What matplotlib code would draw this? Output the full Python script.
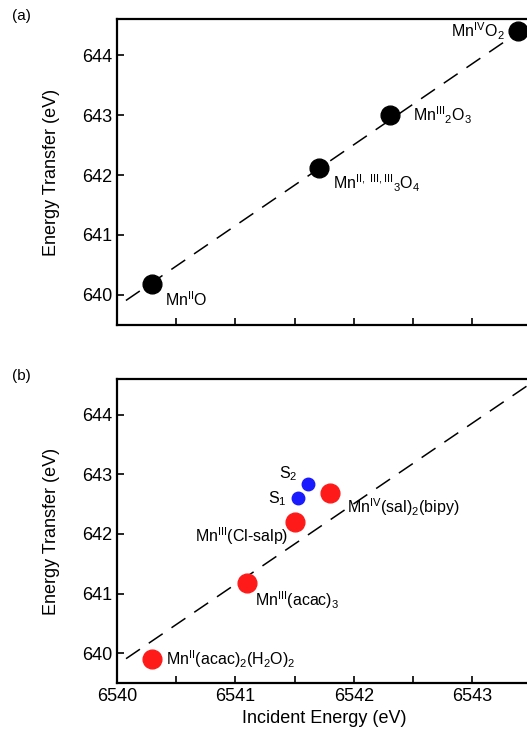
import matplotlib
matplotlib.use("Agg")
import matplotlib.pyplot as plt

plt.rcParams['font.family'] = ['Liberation Sans', 'DejaVu Sans']
plt.rcParams['mathtext.fontset'] = 'custom'
plt.rcParams['mathtext.rm'] = 'Liberation Sans'
plt.rcParams['mathtext.it'] = 'Liberation Sans:italic'
plt.rcParams['mathtext.bf'] = 'Liberation Sans:bold'

# panel (a): oxides
oxide_x = [6540.3, 6541.71, 6542.31, 6543.39]
oxide_y = [640.18, 642.12, 643.0, 644.4]
oxide_labels = [r'Mn$^{\rm II}$O', r'Mn$^{\rm II,\ III,III}{}_{3}$O$_{4}$',
                r'Mn$^{\rm III}{}_{2}$O$_{3}$', r'Mn$^{\rm IV}$O$_{2}$']

# panel (b): complexes
cplx_x = [6540.3, 6541.1, 6541.5, 6541.8]
cplx_y = [639.9, 641.18, 642.2, 642.68]
cplx_labels = [r'Mn$^{\rm II}$(acac)$_{2}$(H$_{2}$O)$_{2}$', r'Mn$^{\rm III}$(acac)$_{3}$',
               r'Mn$^{\rm III}$(Cl-salp)', r'Mn$^{\rm IV}$(sal)$_{2}$(bipy)']
samp_x = [6541.53, 6541.61]
samp_y = [642.6, 642.83]
samp_labels = [r'S$_{1}$', r'S$_{2}$']

# dashed correlation line
fit_x = [6539.5, 6544.5]
fit_y = [639.13, 645.88]

xticks = [6540, 6540.5, 6541, 6541.5, 6542, 6542.5, 6543]
xticklabels = ['6540', '', '6541', '', '6542', '', '6543']
yticks = [640, 641, 642, 643, 644]

fig = plt.figure(figsize=(5.27, 7.40), dpi=100)
ax1 = fig.add_axes([0.222, 0.561, 0.786, 0.413])
ax2 = fig.add_axes([0.222, 0.077, 0.786, 0.411])

for ax in (ax1, ax2):
    ax.plot(fit_x, fit_y, color='black', lw=1.1, dashes=(11, 7), zorder=1)
    ax.set_xlim(6540, 6543.5)
    ax.set_ylim(639.5, 644.6)
    ax.set_xticks(xticks)
    ax.set_yticks(yticks)
    ax.tick_params(direction='in', length=5, width=1.2, labelsize=13)
    for s in ax.spines.values():
        s.set_linewidth(1.6)
    ax.set_ylabel('Energy Transfer (eV)', fontsize=13, labelpad=16)

ax1.set_xticklabels([])
ax2.set_xticklabels(xticklabels)
ax2.set_xlabel('Incident Energy (eV)', fontsize=13, labelpad=4)

ax1.plot(oxide_x, oxide_y, 'o', color='black', ms=13.5, zorder=3, clip_on=False)
ax2.plot(cplx_x, cplx_y, 'o', color='#ff1a1a', ms=13.5, zorder=3)
ax2.plot(samp_x, samp_y, 'o', color='#1a1aff', ms=9, zorder=3)

fs = 11.5
ox_off = [(13, -16, 'left'), (14, -15, 'left'), (23, 0, 'left'), (-14, 0, 'right')]
for x, y, t, (dx, dy, ha) in zip(oxide_x, oxide_y, oxide_labels, ox_off):
    ax1.annotate(t, (x, y), xytext=(dx, dy), textcoords='offset pixels',
                 ha=ha, va='center', fontsize=fs)

cp_off = [(14, 0, 'left'), (8, -17, 'left'), (-6, -14, 'right'), (17, -14, 'left')]
for x, y, t, (dx, dy, ha) in zip(cplx_x, cplx_y, cplx_labels, cp_off):
    ax2.annotate(t, (x, y), xytext=(dx, dy), textcoords='offset pixels',
                 ha=ha, va='center', fontsize=fs)

sp_off = [(-11, 0, 'right'), (-10, 11, 'right')]
for x, y, t, (dx, dy, ha) in zip(samp_x, samp_y, samp_labels, sp_off):
    ax2.annotate(t, (x, y), xytext=(dx, dy), textcoords='offset pixels',
                 ha=ha, va='center', fontsize=fs)

fig.text(0.022, 0.978, '(a)', fontsize=11, va='center')
fig.text(0.022, 0.492, '(b)', fontsize=11, va='center')

fig.savefig('out.png', dpi=100)
